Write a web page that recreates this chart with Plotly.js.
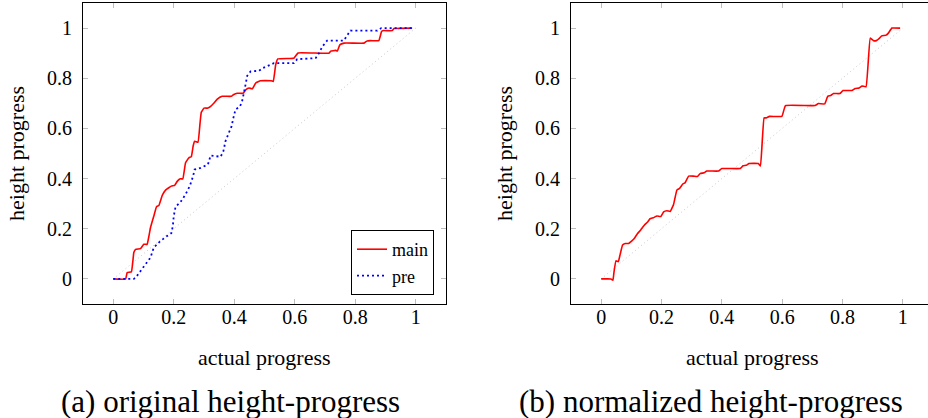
<!DOCTYPE html>
<html>
<head>
<meta charset="utf-8">
<script src="https://cdn.plot.ly/plotly-3.0.1.min.js"></script>
<style>
  html, body { margin: 0; padding: 0; background: #fff; overflow: hidden; }
  #chart { width: 940px; height: 418px; }
</style>
</head>
<body>
<div id="chart"></div>
<script>
// ---- data ----
// (a) original height-progress : "main"
const mainX = [0, 0.041, 0.046, 0.060, 0.068, 0.074, 0.090, 0.101, 0.112, 0.118, 0.123, 0.134, 0.143, 0.151, 0.162, 0.173, 0.192, 0.203, 0.212, 0.222, 0.230, 0.239, 0.250, 0.258, 0.264, 0.269, 0.280, 0.287, 0.291, 0.300, 0.313, 0.322, 0.333, 0.344, 0.360, 0.390, 0.397, 0.410, 0.429, 0.438, 0.449, 0.460, 0.471, 0.487, 0.522, 0.529, 0.537, 0.544, 0.597, 0.603, 0.611, 0.713, 0.719, 0.735, 0.741, 0.749, 0.763, 0.829, 0.838, 0.851, 0.878, 0.887, 0.893, 0.922, 0.928, 0.988];
const mainY = [0, 0, 0.025, 0.028, 0.105, 0.118, 0.121, 0.138, 0.138, 0.171, 0.204, 0.250, 0.288, 0.293, 0.333, 0.354, 0.370, 0.373, 0.390, 0.399, 0.399, 0.463, 0.483, 0.487, 0.529, 0.549, 0.545, 0.622, 0.664, 0.681, 0.681, 0.688, 0.701, 0.717, 0.728, 0.728, 0.734, 0.740, 0.740, 0.754, 0.761, 0.758, 0.781, 0.790, 0.790, 0.787, 0.854, 0.877, 0.880, 0.889, 0.901, 0.900, 0.908, 0.911, 0.909, 0.933, 0.940, 0.940, 0.948, 0.950, 0.950, 0.986, 0.990, 0.990, 0.998, 1.0];
// (a) original height-progress : "pre"
const preX = [0, 0.068, 0.074, 0.088, 0.101, 0.123, 0.134, 0.156, 0.178, 0.192, 0.197, 0.200, 0.206, 0.222, 0.239, 0.253, 0.264, 0.269, 0.289, 0.313, 0.322, 0.355, 0.364, 0.371, 0.382, 0.391, 0.397, 0.404, 0.419, 0.426, 0.434, 0.443, 0.454, 0.482, 0.493, 0.515, 0.531, 0.597, 0.608, 0.669, 0.680, 0.691, 0.707, 0.762, 0.779, 0.784, 0.873, 0.886, 0.988];
const preY = [0, 0, 0.005, 0.028, 0.045, 0.085, 0.125, 0.151, 0.171, 0.182, 0.211, 0.250, 0.288, 0.306, 0.337, 0.370, 0.410, 0.436, 0.443, 0.456, 0.492, 0.487, 0.509, 0.549, 0.582, 0.608, 0.641, 0.675, 0.688, 0.708, 0.754, 0.810, 0.827, 0.830, 0.840, 0.851, 0.860, 0.860, 0.876, 0.880, 0.900, 0.926, 0.950, 0.950, 0.980, 0.990, 0.990, 1.0, 1.0];
// (b) normalized height-progress : "main"
const normX = [0, 0.032, 0.039, 0.043, 0.049, 0.057, 0.063, 0.071, 0.080, 0.091, 0.099, 0.109, 0.120, 0.131, 0.143, 0.154, 0.162, 0.173, 0.185, 0.198, 0.207, 0.218, 0.229, 0.240, 0.251, 0.260, 0.271, 0.278, 0.290, 0.306, 0.319, 0.328, 0.341, 0.350, 0.389, 0.400, 0.461, 0.470, 0.481, 0.490, 0.521, 0.528, 0.540, 0.547, 0.558, 0.599, 0.611, 0.709, 0.720, 0.741, 0.751, 0.761, 0.770, 0.791, 0.802, 0.831, 0.842, 0.855, 0.865, 0.878, 0.892, 0.903, 0.912, 0.923, 0.930, 0.945, 0.952, 0.964, 0.991];
const normY = [0, 0, -0.005, 0.032, 0.072, 0.069, 0.098, 0.135, 0.141, 0.141, 0.149, 0.160, 0.180, 0.195, 0.214, 0.227, 0.240, 0.244, 0.251, 0.249, 0.267, 0.272, 0.269, 0.297, 0.354, 0.361, 0.379, 0.383, 0.410, 0.410, 0.408, 0.420, 0.423, 0.430, 0.430, 0.440, 0.440, 0.451, 0.453, 0.460, 0.460, 0.450, 0.642, 0.642, 0.648, 0.648, 0.691, 0.691, 0.699, 0.698, 0.728, 0.731, 0.739, 0.739, 0.751, 0.751, 0.759, 0.761, 0.769, 0.766, 0.960, 0.950, 0.950, 0.960, 0.969, 0.972, 0.980, 1.0, 1.0];
// reference diagonal
const diagX = [0, 1];
const diagY = [0, 1];
const tickVals = [0, 0.2, 0.4, 0.6, 0.8, 1];
const tickText = ['0', '0.2', '0.4', '0.6', '0.8', '1'];
const legendNames = ['main', 'pre'];
const xTitle = 'actual progress';
const yTitle = 'height progress';
const captions = ['(a) original height-progress', '(b) normalized height-progress'];

// ---- layout helpers (pixel -> paper) ----
const W = 940, H = 418;
const px = v => v / W;
const py = v => 1 - v / H;
const FONT = 'Liberation Serif';

const RED = '#ff0000', BLUE = '#0000ff', GRAY = '#c8c8c8';

const traces = [
  {x: diagX, y: diagY, xaxis: 'x', yaxis: 'y', mode: 'lines', showlegend: false, hoverinfo: 'skip',
   line: {color: GRAY, width: 1, dash: '1px,3px'}},
  {x: mainX, y: mainY, xaxis: 'x', yaxis: 'y', mode: 'lines', name: legendNames[0],
   line: {color: RED, width: 1.6, shape: 'spline', smoothing: 0.3}},
  {x: preX, y: preY, xaxis: 'x', yaxis: 'y', mode: 'lines', name: legendNames[1],
   line: {color: BLUE, width: 1.8, dash: '2px,3px'}},
  {x: diagX, y: diagY, xaxis: 'x2', yaxis: 'y2', mode: 'lines', showlegend: false, hoverinfo: 'skip',
   line: {color: GRAY, width: 1, dash: '1px,3px'}},
  {x: normX, y: normY, xaxis: 'x2', yaxis: 'y2', mode: 'lines', showlegend: false,
   line: {color: RED, width: 1.6, shape: 'spline', smoothing: 0.3}}
];

function axisCommon(extra) {
  return Object.assign({
    range: [-0.1, 1.1],
    tickmode: 'array', tickvals: tickVals, ticktext: tickText,
    ticks: 'inside', ticklen: 5, tickwidth: 1, tickcolor: '#bdbdbd',
    showline: true, linecolor: '#000', linewidth: 1, mirror: 'ticks',
    showgrid: false, zeroline: false,
    tickfont: {family: FONT, size: 20, color: '#000'},
    fixedrange: true
  }, extra);
}

const yDom = [py(304), py(3)];
const layout = {
  width: W, height: H,
  margin: {l: 0, r: 0, t: 0, b: 0, pad: 0},
  paper_bgcolor: '#fff', plot_bgcolor: '#fff',
  font: {family: FONT, size: 20, color: '#000'},
  xaxis: axisCommon({domain: [px(83), px(446)], anchor: 'y', ticklabelstandoff: -5}),
  yaxis: axisCommon({domain: yDom, anchor: 'x', ticklabelstandoff: 6}),
  xaxis2: axisCommon({domain: [px(571), px(933)], anchor: 'y2', ticklabelstandoff: -5}),
  yaxis2: axisCommon({domain: yDom, anchor: 'x2', ticklabelstandoff: 6}),
  showlegend: true,
  legend: {
    x: px(434), y: py(295), xanchor: 'right', yanchor: 'bottom',
    bgcolor: '#fff', bordercolor: '#000', borderwidth: 1,
    font: {family: FONT, size: 18, color: '#000'},
    tracegroupgap: 0, itemwidth: 30
  },
  annotations: [
    {text: yTitle, x: px(16), y: py(154), xref: 'paper', yref: 'paper', textangle: -90,
     xanchor: 'center', yanchor: 'middle', showarrow: false, font: {family: FONT, size: 22}},
    {text: yTitle, x: px(504), y: py(154), xref: 'paper', yref: 'paper', textangle: -90,
     xanchor: 'center', yanchor: 'middle', showarrow: false, font: {family: FONT, size: 22}},
    {text: xTitle, x: px(264), y: py(357), xref: 'paper', yref: 'paper',
     xanchor: 'center', yanchor: 'middle', showarrow: false, font: {family: FONT, size: 22}},
    {text: xTitle, x: px(752), y: py(357), xref: 'paper', yref: 'paper',
     xanchor: 'center', yanchor: 'middle', showarrow: false, font: {family: FONT, size: 22}},
    {text: captions[0], x: px(230), y: py(401), xref: 'paper', yref: 'paper',
     xanchor: 'center', yanchor: 'middle', showarrow: false, font: {family: FONT, size: 31}},
    {text: captions[1], x: px(711), y: py(401), xref: 'paper', yref: 'paper',
     xanchor: 'center', yanchor: 'middle', showarrow: false, font: {family: FONT, size: 31}}
  ]
};

Plotly.newPlot('chart', traces, layout, {staticPlot: true, displayModeBar: false});
</script>
</body>
</html>
